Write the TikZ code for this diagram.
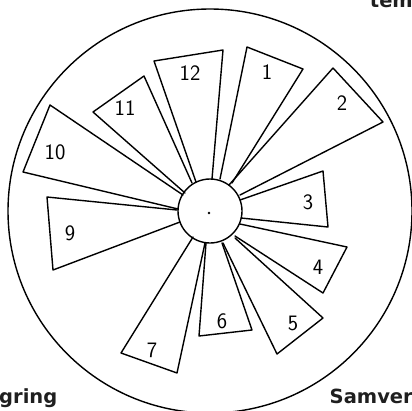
\documentclass[tikz,border=0pt]{standalone}
\usepackage{fontspec}
\newfontfamily\capfont{DejaVu Sans}
\usepackage{tikz}
\usetikzlibrary{positioning,calc}

\tikzset{
  sector/.style={line width=1.4pt, line join=round, line cap=round},
  ring/.style={line width=1.4pt},
  num/.style={font=\sffamily\fontsize{22}{22}\selectfont, inner sep=0pt},
  caption/.style={font=\capfont\bfseries\fontsize{19.5}{19.5}\selectfont, text=black!88, inner sep=0pt}
}

\begin{document}
\begin{tikzpicture}[x=1pt, y=-1pt]
    % frame of the picture (pixel grid, y downwards)
    \useasboundingbox (0,0) rectangle (412,410);
    \clip (0,0) rectangle (412,410);

    % outer circle and hub
    \coordinate (C) at (210,211);
    \draw[ring] (C) circle (202);
    \draw[ring] (C) circle (32);
    \fill (209,213) circle (1.3);

    % sectors 1 to 12 (open towards the hub)
    \draw[sector] (220,179) -- (247,47) -- (303,69) -- (232,183);
    \draw[sector] (229,185) -- (333,68) -- (383,122) -- (240,195);
    \draw[sector] (240,200) -- (323,171) -- (328,227) -- (241,218);
    \draw[sector] (240,224) -- (347,247) -- (323,293) -- (235,236);
    \draw[sector] (235,238) -- (323,318) -- (277,354) -- (223,243);
    \draw[sector] (222,243) -- (252,330) -- (199,336) -- (206,243);
    \draw[sector] (205,243) -- (177,373) -- (121,353) -- (193,237);
    \draw[sector] (180,222) -- (53,270) -- (47,197) -- (177,210);
    \draw[sector] (178,209) -- (23,172) -- (50,105) -- (183,195);
    \draw[sector] (185,193) -- (93,112) -- (144,76) -- (192,183);
    \draw[sector] (196,182) -- (154,61) -- (223,50) -- (212,179);

    % numbers
    \node[num] (n1) at (267,72) {1};
    \node[num] (n2) at (342,103) {2};
    \node[num] (n3) at (308,202) {3};
    \node[num] (n4) at (318,267) {4};
    \node[num] (n5) at (293,323) {5};
    \node[num] (n6) at (222,321) {6};
    \node[num] (n7) at (152,350) {7};
    \node[num] (n9) at (70,233) {9};
    \node[num] (n10) at (55,152) {10};
    \node[num] (n11) at (125,108) {11};
    \node[num] (n12) at (190,73) {12};

    % cut-off captions at the edges
    \node[caption, anchor=base east] (top) at (413,7) {tem};
    \node[caption, anchor=base west] (left) at (-1,403) {gring};
    \node[caption, anchor=base east] (right) at (413,403) {Samver};
\end{tikzpicture}
\end{document}
